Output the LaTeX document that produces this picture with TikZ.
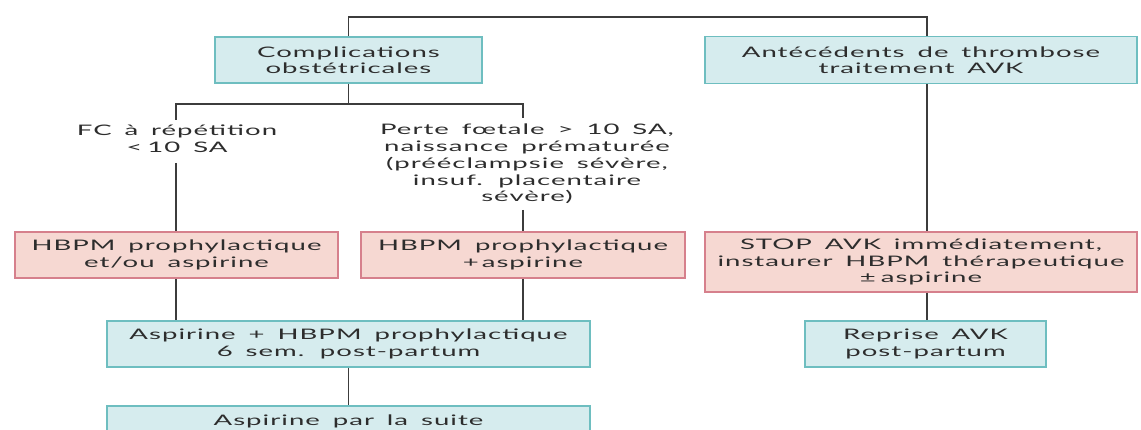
\documentclass[tikz,border=0pt]{standalone}
\usepackage{fontspec}
\setmainfont[FakeStretch=1.9, LetterSpace=7, WordSpace=1.6]{Lato}
\definecolor{bfill}{RGB}{214,236,238}
\definecolor{bline}{RGB}{110,190,192}
\definecolor{rfill}{RGB}{246,216,210}
\definecolor{rline}{RGB}{214,128,140}
\definecolor{conn}{RGB}{60,60,60}
\definecolor{txt}{RGB}{45,45,45}
\tikzset{
  base/.style={rectangle, inner sep=0pt, align=center, text=txt,
    font=\fontsize{14.5}{16.5}\selectfont, line width=1.6pt},
  bluebox/.style={base, draw=bline, fill=bfill},
  redbox/.style={base, draw=rline, fill=rfill},
  plain/.style={inner sep=0pt, align=center, text=txt,
    font=\fontsize{14.5}{16.8}\selectfont},
  conline/.style={draw=conn, line width=1.5pt}
}
\begin{document}
\begin{tikzpicture}[x=1pt,y=-1pt]
\useasboundingbox (0,0) rectangle (1141,430);
\node[bluebox, minimum width=267pt, minimum height=46pt] (comp) at (348.5,60) {Complications\\obstétricales};
\node[bluebox, minimum width=432pt, minimum height=47pt] (ant) at (921,60) {Antécédents de thrombose\\traitement AVK};
\node[plain] (fc) at (177,139) {FC à répétition\\<\hspace{5pt}10 SA};
\node[plain] (perte) at (527,164) {Perte fœtale > 10 SA,\\naissance prématurée\\(prééclampsie sévère,\\insuf. placentaire\\sévère)};
\node[redbox, minimum width=323pt, minimum height=46pt] (red1) at (176.5,255) {HBPM prophylactique\\et/ou aspirine};
\node[redbox, minimum width=324pt, minimum height=46pt] (red2) at (523,255) {HBPM prophylactique\\+\hspace{3pt}aspirine};
\node[redbox, minimum width=432pt, minimum height=60pt] (stop) at (921,262) {STOP AVK immédiatement,\\instaurer HBPM thérapeutique\\±\hspace{5pt}aspirine};
\node[bluebox, minimum width=483pt, minimum height=46pt] (asp) at (348.5,344) {Aspirine + HBPM prophylactique\\6 sem. post-partum};
\node[bluebox, minimum width=483pt, minimum height=32pt, anchor=north] (suite) at (348.5,405) {Aspirine par la suite};
\node[bluebox, minimum width=241pt, minimum height=46pt] (reprise) at (925.5,344) {Reprise AVK\\post-partum};
\coordinate (tl) at (348.5,17);
\coordinate (tr) at (927,17);
\coordinate (bj) at (348.5,104);
\coordinate (bl) at (176,104);
\coordinate (br) at (523,104);
\coordinate (bl2) at (176,120);
\coordinate (br2) at (523,118);
\coordinate (fcl) at (176,163);
\coordinate (pl) at (523,210);
\draw[conline] (comp.north) -- (tl) -- (tr) -- (tr |- ant.north);
\draw[conline] (comp.south) -- (bj);
\draw[conline] (bl2) -- (bl) -- (br) -- (br2);
\draw[conline] (fcl) -- (fcl |- red1.north);
\draw[conline] (pl) -- (pl |- red2.north);
\draw[conline] (fcl |- red1.south) -- (fcl |- asp.north);
\draw[conline] (pl |- red2.south) -- (pl |- asp.north);
\draw[conline] (asp.south) -- (suite.north);
\draw[conline] (tr |- ant.south) -- (tr |- stop.north);
\draw[conline] (tr |- stop.south) -- (tr |- reprise.north);
\end{tikzpicture}
\end{document}
